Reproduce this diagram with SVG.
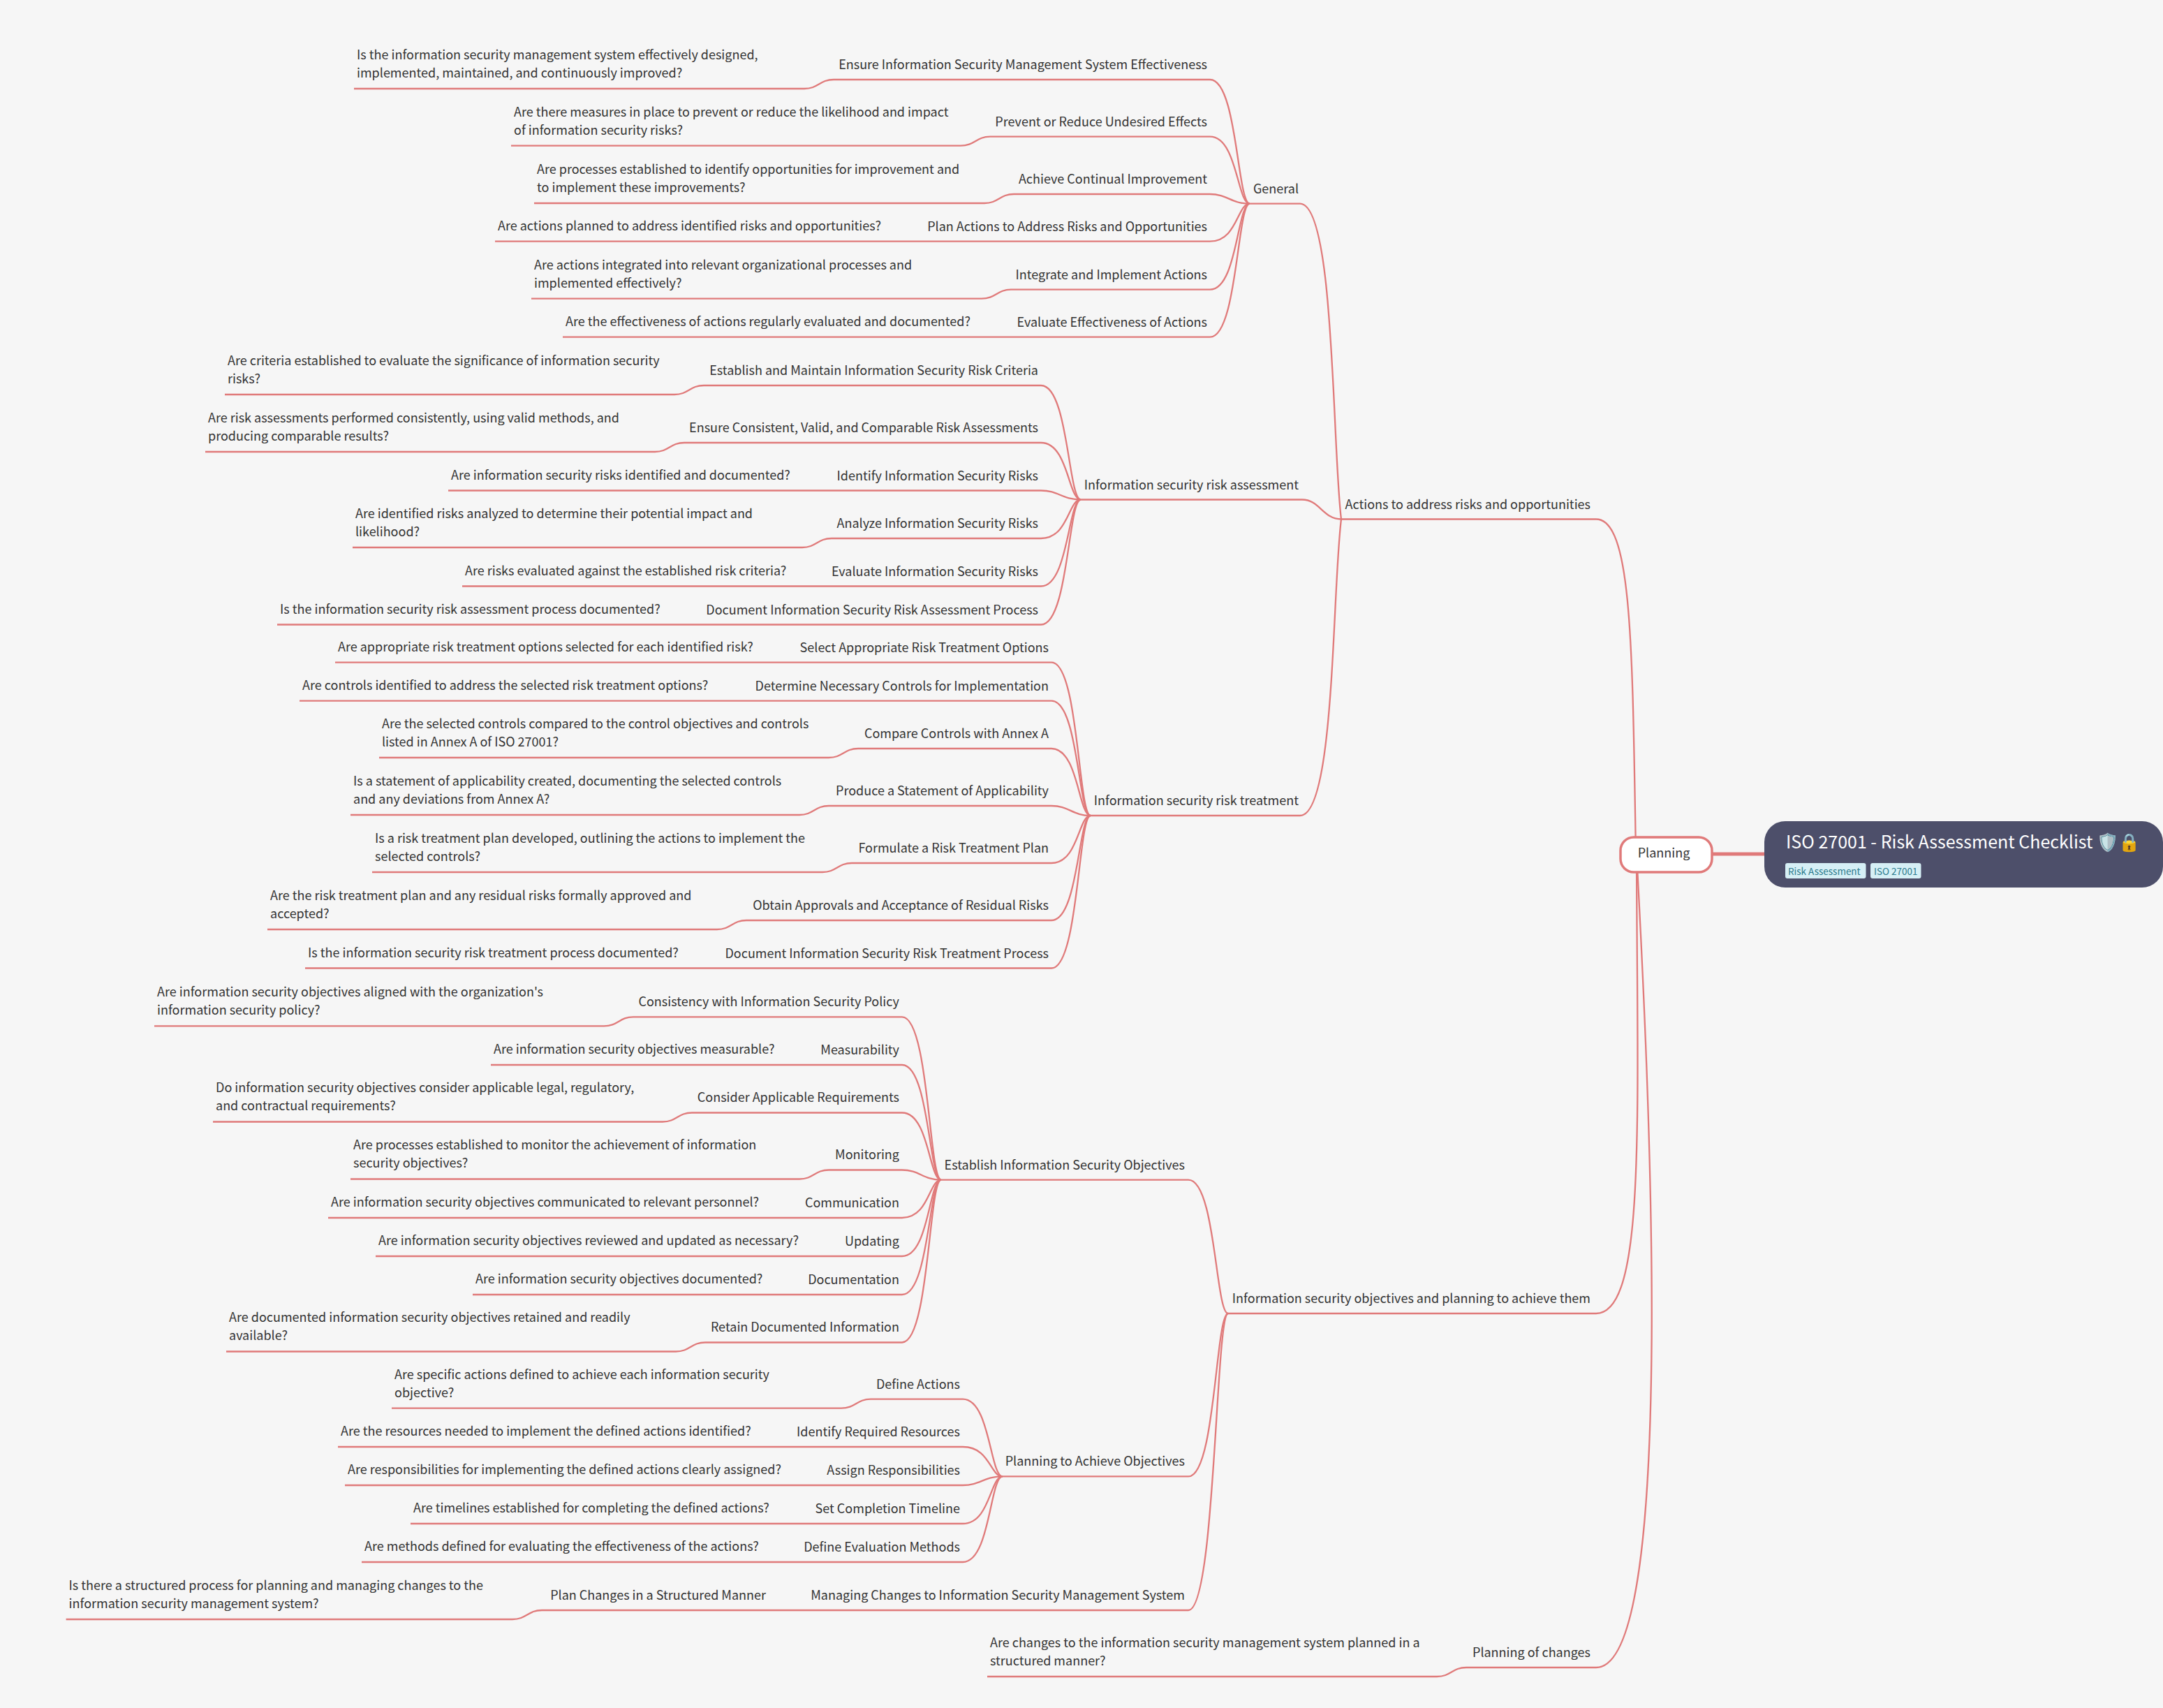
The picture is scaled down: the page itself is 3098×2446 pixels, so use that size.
<svg xmlns="http://www.w3.org/2000/svg" width="3098" height="2446" viewBox="0 0 3098 2446">
<style>
text{font-family:"Noto Sans CJK SC","Noto Sans",sans-serif;font-size:18px;fill:#333}
.e{text-anchor:end;transform:translateY(.7px)}
.c path,.c line{fill:none;stroke:#e07a7a;stroke-width:2.300}
.t{fill:#fff;font-size:25px}
.tg{fill:#2b7a8c;font-size:13.500px}
</style>
<rect width="3098" height="2446" fill="#f6f6f6"/>
<g class="c" id="connectors">
<line x1="2452" y1="1223" x2="2527" y2="1223" style="stroke-width:5"/>
<path d="M1920 743.500H2286C2338 743.500 2338 930 2343 1223"/>
<path d="M1758 1881H2286C2358 1881 2345 1600 2344 1223"/>
<path d="M1414 2401H2058c20 0 22 -13 42 -13H2286C2405 2388 2360 1520 2344 1223"/>
<path d="M1790 291.700H1862C1912 291.700 1908 640 1921 743.500"/>
<path d="M1548 715.500H1865c25 0 30 28 56 28"/>
<path d="M1562 1168H1862C1912 1168 1908 847 1921 743.500"/>
<path d="M1348 1689.600H1702c39 0 39 191.400 57 191.400"/>
<path d="M1436 2114.400H1702c39 0 39 -233.400 57 -233.400"/>
<path d="M94.600 2319H734c20 0 22 -13 42 -13H1702c39 0 39 -425 57 -425"/>
<path d="M507 127H1152c20 0 22 -13 42 -13H1733c39 0 39 177.700 57 177.700"/>
<path d="M732 208.700H1376c20 0 22 -13 42 -13H1733c39 0 39 96 57 96"/>
<path d="M765 291H1410c20 0 22 -13 42 -13H1733c25 0 30 13.700 57 13.700"/>
<path d="M709 345.700H1733c39 0 39 -54 57 -54"/>
<path d="M761 427.700H1406c20 0 22 -13 42 -13H1733c39 0 39 -123 57 -123"/>
<path d="M806 482.700H1733c39 0 39 -191 57 -191"/>
<path d="M322 565H966c20 0 22 -13 42 -13H1491c39 0 39 163.500 57 163.500"/>
<path d="M294 647H938c20 0 22 -13 42 -13H1491c39 0 39 81.500 57 81.500"/>
<path d="M642 702.500H1491c25 0 30 13 57 13"/>
<path d="M505 784H1149c20 0 22 -13 42 -13H1491c39 0 39 -55.500 57 -55.500"/>
<path d="M662 839.500H1491c39 0 39 -124 57 -124"/>
<path d="M397 894.500H1491c39 0 39 -179 57 -179"/>
<path d="M480 948.600H1506c38.500 0 38.500 219.400 56 219.400"/>
<path d="M429 1003.600H1506c38.500 0 38.500 164.400 56 164.400"/>
<path d="M543 1085H1187c20 0 22 -13 42 -13H1506c38.500 0 38.500 96 56 96"/>
<path d="M502 1167H1145c20 0 22 -13 42 -13H1506c25 0 30 14 56 14"/>
<path d="M533 1249H1178c20 0 22 -13 42 -13H1506c38.500 0 38.500 -68 56 -68"/>
<path d="M383 1331H1027c20 0 22 -13 42 -13H1506c38.500 0 38.500 -150 56 -150"/>
<path d="M437 1386.500H1506c38.500 0 38.500 -218.500 56 -218.500"/>
<path d="M221 1469.400H865c20 0 22 -13 42 -13H1292c38.500 0 38.500 233.200 56 233.200"/>
<path d="M703 1525H1292c38.500 0 38.500 164.600 56 164.600"/>
<path d="M305 1606.500H949c20 0 22 -13 42 -13H1292c38.500 0 38.500 96.100 56 96.100"/>
<path d="M502 1688.500H1145c20 0 22 -13 42 -13H1292c25 0 30 14.100 56 14.100"/>
<path d="M470 1744H1292c38.500 0 38.500 -54.400 56 -54.400"/>
<path d="M538 1799H1292c38.500 0 38.500 -109.400 56 -109.400"/>
<path d="M677 1854H1292c38.500 0 38.500 -164.400 56 -164.400"/>
<path d="M324 1935.500H968c20 0 22 -13 42 -13H1292c38.500 0 38.500 -232.900 56 -232.900"/>
<path d="M561 2016.700H1205c20 0 22 -13 42 -13H1379c39 0 39 110.700 57 110.700"/>
<path d="M484 2072H1379c39 0 39 42.400 57 42.400"/>
<path d="M494 2127H1379c25 0 30 -12.600 57 -12.600"/>
<path d="M588 2182H1379c39 0 39 -67.600 57 -67.600"/>
<path d="M518 2237H1379c39 0 39 -122.600 57 -122.600"/>
</g>
<g id="root">
<rect x="2527" y="1176" width="571" height="95" rx="30" fill="#4d4f6a"/>
<text class="t" x="2558" y="1215">ISO 27001 - Risk Assessment Checklist 🛡️🔒</text>
<rect x="2557" y="1236" width="115.500" height="22" rx="3" fill="#d6f0f6"/>
<text class="tg" x="2561" y="1253">Risk Assessment</text>
<rect x="2679" y="1236" width="72.500" height="22" rx="3" fill="#d6f0f6"/>
<text class="tg" x="2684" y="1253">ISO 27001</text>
</g>
<g id="planning">
<rect x="2321" y="1199" width="131" height="50" rx="19" fill="#fff" stroke="#e07a7a" stroke-width="3.500"/>
<text x="2383" y="1228" text-anchor="middle">Planning</text>
</g>
<g id="actions"><text class="e" x="2278" y="728">Actions to address risks and opportunities</text></g>
<g id="objectives"><text class="e" x="2278" y="1865">Information security objectives and planning to achieve them</text></g>
<g id="changes"><text class="e" x="2278" y="2372">Planning of changes</text><text x="1418" y="2359">Are changes to the information security management system planned in a</text><text x="1418" y="2385">structured manner?</text></g>
<g id="general"><text class="e" x="1860" y="276">General</text></g>
<g id="risk-assessment"><text class="e" x="1860" y="700">Information security risk assessment</text></g>
<g id="risk-treatment"><text class="e" x="1860" y="1152">Information security risk treatment</text></g>
<g id="establish"><text class="e" x="1697" y="1674">Establish Information Security Objectives</text></g>
<g id="achieve"><text class="e" x="1697" y="2098">Planning to Achieve Objectives</text></g>
<g id="managing"><text class="e" x="1697" y="2290">Managing Changes to Information Security Management System</text></g>
<g id="n1"><text class="e" x="1729" y="98">Ensure Information Security Management System Effectiveness</text><text x="511" y="85">Is the information security management system effectively designed,</text><text x="511" y="111">implemented, maintained, and continuously improved?</text></g>
<g id="n2"><text class="e" x="1729" y="180">Prevent or Reduce Undesired Effects</text><text x="736" y="167">Are there measures in place to prevent or reduce the likelihood and impact</text><text x="736" y="193">of information security risks?</text></g>
<g id="n3"><text class="e" x="1729" y="262">Achieve Continual Improvement</text><text x="769" y="249">Are processes established to identify opportunities for improvement and</text><text x="769" y="275">to implement these improvements?</text></g>
<g id="n4"><text class="e" x="1729" y="330">Plan Actions to Address Risks and Opportunities</text><text x="713" y="330">Are actions planned to address identified risks and opportunities?</text></g>
<g id="n5"><text class="e" x="1729" y="399">Integrate and Implement Actions</text><text x="765" y="386">Are actions integrated into relevant organizational processes and</text><text x="765" y="412">implemented effectively?</text></g>
<g id="n6"><text class="e" x="1729" y="467">Evaluate Effectiveness of Actions</text><text x="810" y="467">Are the effectiveness of actions regularly evaluated and documented?</text></g>
<g id="n7"><text class="e" x="1487" y="536">Establish and Maintain Information Security Risk Criteria</text><text x="326" y="523">Are criteria established to evaluate the significance of information security</text><text x="326" y="549">risks?</text></g>
<g id="n8"><text class="e" x="1487" y="618">Ensure Consistent, Valid, and Comparable Risk Assessments</text><text x="298" y="605">Are risk assessments performed consistently, using valid methods, and</text><text x="298" y="631">producing comparable results?</text></g>
<g id="n9"><text class="e" x="1487" y="687">Identify Information Security Risks</text><text x="646" y="687">Are information security risks identified and documented?</text></g>
<g id="n10"><text class="e" x="1487" y="755">Analyze Information Security Risks</text><text x="509" y="742">Are identified risks analyzed to determine their potential impact and</text><text x="509" y="768">likelihood?</text></g>
<g id="n11"><text class="e" x="1487" y="824">Evaluate Information Security Risks</text><text x="666" y="824">Are risks evaluated against the established risk criteria?</text></g>
<g id="n12"><text class="e" x="1487" y="879">Document Information Security Risk Assessment Process</text><text x="401" y="879">Is the information security risk assessment process documented?</text></g>
<g id="n13"><text class="e" x="1502" y="933">Select Appropriate Risk Treatment Options</text><text x="484" y="933">Are appropriate risk treatment options selected for each identified risk?</text></g>
<g id="n14"><text class="e" x="1502" y="988">Determine Necessary Controls for Implementation</text><text x="433" y="988">Are controls identified to address the selected risk treatment options?</text></g>
<g id="n15"><text class="e" x="1502" y="1056">Compare Controls with Annex A</text><text x="547" y="1043">Are the selected controls compared to the control objectives and controls</text><text x="547" y="1069">listed in Annex A of ISO 27001?</text></g>
<g id="n16"><text class="e" x="1502" y="1138">Produce a Statement of Applicability</text><text x="506" y="1125">Is a statement of applicability created, documenting the selected controls</text><text x="506" y="1151">and any deviations from Annex A?</text></g>
<g id="n17"><text class="e" x="1502" y="1220">Formulate a Risk Treatment Plan</text><text x="537" y="1207">Is a risk treatment plan developed, outlining the actions to implement the</text><text x="537" y="1233">selected controls?</text></g>
<g id="n18"><text class="e" x="1502" y="1302">Obtain Approvals and Acceptance of Residual Risks</text><text x="387" y="1289">Are the risk treatment plan and any residual risks formally approved and</text><text x="387" y="1315">accepted?</text></g>
<g id="n19"><text class="e" x="1502" y="1371">Document Information Security Risk Treatment Process</text><text x="441" y="1371">Is the information security risk treatment process documented?</text></g>
<g id="n20"><text class="e" x="1288" y="1440">Consistency with Information Security Policy</text><text x="225" y="1427">Are information security objectives aligned with the organization's</text><text x="225" y="1453">information security policy?</text></g>
<g id="n21"><text class="e" x="1288" y="1509">Measurability</text><text x="707" y="1509">Are information security objectives measurable?</text></g>
<g id="n22"><text class="e" x="1288" y="1577">Consider Applicable Requirements</text><text x="309" y="1564">Do information security objectives consider applicable legal, regulatory,</text><text x="309" y="1590">and contractual requirements?</text></g>
<g id="n23"><text class="e" x="1288" y="1659">Monitoring</text><text x="506" y="1646">Are processes established to monitor the achievement of information</text><text x="506" y="1672">security objectives?</text></g>
<g id="n24"><text class="e" x="1288" y="1728">Communication</text><text x="474" y="1728">Are information security objectives communicated to relevant personnel?</text></g>
<g id="n25"><text class="e" x="1288" y="1783">Updating</text><text x="542" y="1783">Are information security objectives reviewed and updated as necessary?</text></g>
<g id="n26"><text class="e" x="1288" y="1838">Documentation</text><text x="681" y="1838">Are information security objectives documented?</text></g>
<g id="n27"><text class="e" x="1288" y="1906">Retain Documented Information</text><text x="328" y="1893">Are documented information security objectives retained and readily</text><text x="328" y="1919">available?</text></g>
<g id="n28"><text class="e" x="1375" y="1988">Define Actions</text><text x="565" y="1975">Are specific actions defined to achieve each information security</text><text x="565" y="2001">objective?</text></g>
<g id="n29"><text class="e" x="1375" y="2056">Identify Required Resources</text><text x="488" y="2056">Are the resources needed to implement the defined actions identified?</text></g>
<g id="n30"><text class="e" x="1375" y="2111">Assign Responsibilities</text><text x="498" y="2111">Are responsibilities for implementing the defined actions clearly assigned?</text></g>
<g id="n31"><text class="e" x="1375" y="2166">Set Completion Timeline</text><text x="592" y="2166">Are timelines established for completing the defined actions?</text></g>
<g id="n32"><text class="e" x="1375" y="2221">Define Evaluation Methods</text><text x="522" y="2221">Are methods defined for evaluating the effectiveness of the actions?</text></g>
<g id="n33"><text class="e" x="1097" y="2290">Plan Changes in a Structured Manner</text><text x="98.600" y="2277">Is there a structured process for planning and managing changes to the</text><text x="98.600" y="2303">information security management system?</text></g>
</svg>
